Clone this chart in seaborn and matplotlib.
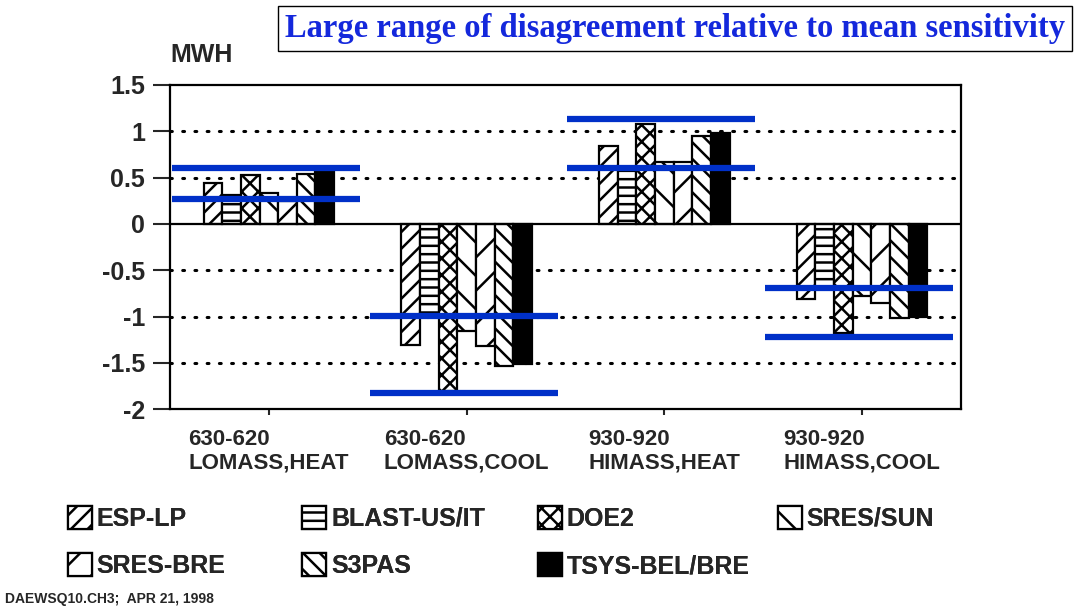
import numpy as np
import pandas as pd
import matplotlib
matplotlib.use("Agg")
import matplotlib.pyplot as plt
import matplotlib.patches as mpatches
import seaborn as sns

# cases on the x axis
cases = ["630-620\nLOMASS,HEAT", "630-620\nLOMASS,COOL",
         "930-920\nHIMASS,HEAT", "930-920\nHIMASS,COOL"]

# programs (hue order)
models = ["ESP-LP", "BLAST-US/IT", "DOE2", "SRES/SUN", "SRES-BRE", "S3PAS", "TSYS-BEL/BRE"]

# sensitivity (MWH) per program, one value per case
esp_lp = [0.44, -1.31, 0.84, -0.81]
blast = [0.31, -1.00, 0.60, -0.70]
doe2 = [0.53, -1.80, 1.08, -1.18]
sres_sun = [0.33, -1.16, 0.67, -0.78]
sres_bre = [0.25, -1.32, 0.67, -0.85]
s3pas = [0.54, -1.53, 0.95, -1.02]
tsys = [0.56, -1.51, 0.98, -1.01]

# blue range markers per case
range_high = [0.60, -0.99, 1.13, -0.69]
range_low = [0.27, -1.83, 0.60, -1.22]

yticks = [1.5, 1, 0.5, 0, -0.5, -1, -1.5, -2]
ytick_labels = ["1.5", "1", "0.5", "0", "-0.5", "-1", "-1.5", "-2"]

series = [esp_lp, blast, doe2, sres_sun, sres_bre, s3pas, tsys]
rows = []
for m, vals in zip(models, series):
    for c, v in zip(cases, vals):
        rows.append({"case": c, "model": m, "value": v})
df = pd.DataFrame(rows)

sns.set_style("white")
plt.rcParams["font.family"] = ["Liberation Sans", "DejaVu Sans"]
plt.rcParams["hatch.linewidth"] = 1.8

hatches = ["//", "--", "xx", "\\", "/", "\\\\", ""]
faces = ["white"] * 6 + ["black"]

fig = plt.figure(figsize=(10.76, 6.07), dpi=100)
ax = fig.add_axes([0.158, 0.326, 0.735, 0.534])

sns.barplot(data=df, x="case", y="value", hue="model", order=cases, hue_order=models,
            width=0.66, errorbar=None, legend=False, ax=ax)

for cont, h, fc in zip(ax.containers, hatches, faces):
    for p in cont.patches:
        p.set_facecolor(fc)
        p.set_edgecolor("black")
        p.set_hatch(h)
        p.set_linewidth(1.6)

ax.set_ylim(-2, 1.5)
ax.set_xlim(-0.5, 3.5)

for t in yticks:
    if t == 0:
        ax.axhline(0, color="black", lw=1.6, zorder=1)
    elif t not in (1.5, -2):
        ax.axhline(t, color="black", lw=2.2, linestyle=(0, (0.6, 3.4)),
                   dash_capstyle="round", zorder=0)

for i in range(len(cases)):
    ax.hlines([range_high[i], range_low[i]], i - 0.49, i + 0.46,
              color="#0030c8", lw=4.5, zorder=5)

ax.set_yticks(yticks, ytick_labels, fontsize=18, fontweight="bold")
ax.set_xticks(range(len(cases)), cases, fontsize=16, fontweight="bold", linespacing=1.2)
for t in ax.get_xticklabels():
    t.set_multialignment("left")
ax.tick_params(axis="y", direction="out", length=12, width=1.5, pad=6, left=True)
ax.tick_params(axis="x", direction="out", length=4, width=1.5, pad=10, bottom=True)
ax.set_xlabel("")
ax.set_ylabel("")
for s in ax.spines.values():
    s.set_linewidth(1.6)
    s.set_color("black")

fig.text(0.158, 0.91, "MWH", fontsize=18, fontweight="bold", ha="left", va="center")

fig.text(0.265, 0.953, "Large range of disagreement relative to mean sensitivity",
         family=["Liberation Serif", "DejaVu Serif"], fontsize=23.5, fontweight="bold",
         color="#1428dc", ha="left", va="center",
         bbox=dict(boxstyle="square,pad=0.22", facecolor="white", edgecolor="black", lw=1))

handles = [mpatches.Patch(facecolor=fc, edgecolor="black", hatch=h, lw=1.6, label=m)
           for m, h, fc in zip(models, hatches, faces)]
# legend laid out in a fixed grid: two rows, four columns
columns = [[0, 4], [1, 5], [2, 6], [3]]
col_x = [0.063, 0.281, 0.500, 0.723]
for idx, x0 in zip(columns, col_x):
    leg = fig.legend([handles[i] for i in idx], [models[i] for i in idx],
                     loc="upper left", bbox_to_anchor=(x0, 0.166), frameon=False,
                     prop={"size": 18, "weight": "bold"}, handlelength=0.95,
                     handleheight=1.0, handletextpad=0.2, borderpad=0,
                     borderaxespad=0, labelspacing=0.9)
    fig.add_artist(leg)

fig.text(0.005, 0.014, "DAEWSQ10.CH3;  APR 21, 1998", fontsize=10, fontweight="bold",
         ha="left", va="center")

fig.savefig("out.png", dpi=100, facecolor="white")
